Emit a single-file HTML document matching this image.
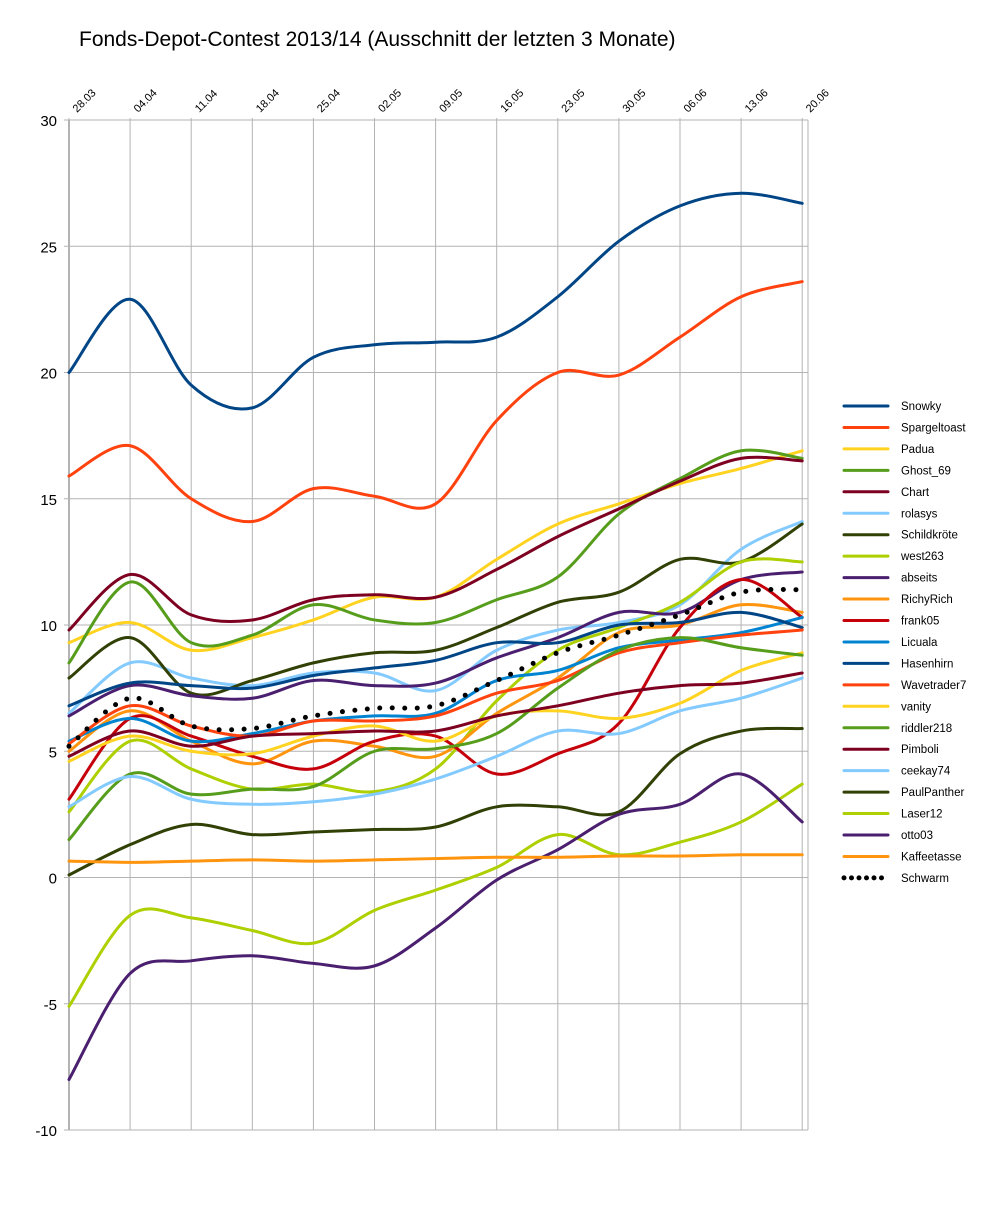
<!DOCTYPE html>
<html><head><meta charset="utf-8"><style>
body{margin:0;background:#fff;}
svg{display:block;font-family:"Liberation Sans",Arial,sans-serif;}
</style></head><body>
<svg id="chart" width="1006" height="1232" viewBox="0 0 1006 1232" xmlns="http://www.w3.org/2000/svg">
<rect width="1006" height="1232" fill="#fff"/>
<text x="79" y="46" font-size="21" fill="#000">Fonds-Depot-Contest 2013/14 (Ausschnitt der letzten 3 Monate)</text>
<g id="grid"></g><g id="axes"></g><g id="series"></g><g id="legend"></g>
</svg>
<script>
const categories=["28.03","04.04","11.04","18.04","25.04","02.05","09.05","16.05","23.05","30.05","06.06","13.06","20.06"];
const yTicks=[30,25,20,15,10,5,0,-5,-10];
const seriesNames=["Snowky","Spargeltoast","Padua","Ghost_69","Chart","rolasys","Schildkröte","west263","abseits","RichyRich","frank05","Licuala","Hasenhirn","Wavetrader7","vanity","riddler218","Pimboli","ceekay74","PaulPanther","Laser12","otto03","Kaffeetasse","Schwarm"];
const seriesColors=["#004586","#ff420e","#ffd320","#579d1c","#7e0021","#83caff","#314004","#aecf00","#4b1f6f","#ff950e","#c5000b","#0084d1","#004586","#ff420e","#ffd320","#579d1c","#7e0021","#83caff","#314004","#aecf00","#4b1f6f","#ff950e","#000"];
const snowky=[20,22.9,19.5,18.6,20.6,21.1,21.2,21.4,23,25.2,26.6,27.1,26.7];
const spargeltoast=[15.9,17.1,15.0,14.1,15.4,15.1,14.8,18.1,20.0,19.9,21.4,23.0,23.6];
const padua=[9.3,10.1,9.0,9.5,10.2,11.1,11.1,12.6,14.0,14.8,15.6,16.2,16.9];
const ghost69=[8.5,11.7,9.3,9.6,10.8,10.2,10.1,11.0,11.9,14.4,15.8,16.9,16.6];
const chartS=[9.8,12.0,10.4,10.2,11.0,11.2,11.1,12.2,13.5,14.6,15.7,16.6,16.5];
const rolasys=[6.5,8.5,7.9,7.6,8.1,8.1,7.4,9.0,9.8,10.1,10.8,13.0,14.1];
const schildkroete=[7.9,9.5,7.3,7.8,8.5,8.9,9.0,9.9,10.9,11.3,12.6,12.5,14.0];
const west263=[2.6,5.4,4.3,3.5,3.7,3.4,4.3,7.0,9.0,9.9,10.9,12.5,12.5];
const abseits=[6.4,7.6,7.2,7.1,7.8,7.6,7.7,8.7,9.5,10.5,10.5,11.8,12.1];
const richyrich=[5.0,6.6,5.4,4.5,5.4,5.2,4.8,6.5,7.9,9.7,10.0,10.8,10.5];
const frank05=[3.1,6.3,5.6,4.8,4.3,5.4,5.6,4.1,4.9,6.1,9.9,11.8,10.3];
const licuala=[5.4,6.3,5.4,5.7,6.2,6.4,6.5,7.8,8.2,9.1,9.4,9.7,10.3];
const hasenhirn=[6.8,7.7,7.6,7.5,8.0,8.3,8.6,9.3,9.3,10.0,10.1,10.5,9.9];
const wavetrader7=[5.3,6.8,6.0,5.6,6.2,6.2,6.4,7.3,7.8,8.9,9.3,9.6,9.8];
const vanity=[4.6,5.6,5.0,4.9,5.6,6.0,5.4,6.4,6.6,6.3,6.9,8.2,8.9];
const riddler218=[1.5,4.1,3.3,3.5,3.6,5.0,5.1,5.7,7.5,9.0,9.5,9.1,8.8];
const pimboli=[4.8,5.8,5.2,5.6,5.7,5.8,5.8,6.4,6.8,7.3,7.6,7.7,8.1];
const ceekay74=[2.8,4.0,3.1,2.9,3.0,3.3,3.9,4.8,5.8,5.7,6.6,7.1,7.9];
const paulpanther=[0.1,1.3,2.1,1.7,1.8,1.9,2.0,2.8,2.8,2.6,4.9,5.8,5.9];
const laser12=[-5.1,-1.5,-1.6,-2.1,-2.6,-1.3,-0.5,0.4,1.7,0.9,1.4,2.2,3.7];
const otto03=[-8.0,-3.8,-3.3,-3.1,-3.4,-3.5,-2.0,-0.1,1.1,2.5,2.9,4.1,2.2];
const kaffeetasse=[0.65,0.6,0.65,0.7,0.65,0.7,0.75,0.8,0.8,0.85,0.85,0.9,0.9];
const schwarm=[5.2,7.1,6.0,5.9,6.4,6.7,6.8,7.8,8.9,9.6,10.4,11.3,11.4];
const seriesValues=[snowky,spargeltoast,padua,ghost69,chartS,rolasys,schildkroete,west263,abseits,richyrich,frank05,licuala,hasenhirn,wavetrader7,vanity,riddler218,pimboli,ceekay74,paulpanther,laser12,otto03,kaffeetasse,schwarm];

const NS="http://www.w3.org/2000/svg";
const X0=69,X1=808,XSTEP=61.1,Y0=120,Y1=1130,VMAX=30,VMIN=-10;
function xs(i){return X0+i*XSTEP;}
function ys(v){return Y0+(VMAX-v)*(Y1-Y0)/(VMAX-VMIN);}
function mk(tag,attrs,parent){const e=document.createElementNS(NS,tag);for(const k in attrs)e.setAttribute(k,attrs[k]);parent.appendChild(e);return e;}
const grid=document.getElementById('grid'),axes=document.getElementById('axes'),ser=document.getElementById('series'),leg=document.getElementById('legend');
yTicks.forEach(t=>{
  const l=mk('line',{x1:X0-5,x2:X1,y1:ys(t),y2:ys(t),stroke:'#b3b3b3','stroke-width':1},grid);
  
  
  const tx=mk('text',{x:57,y:ys(t)+6,'text-anchor':'end','font-size':15,fill:'#000'},axes);
  tx.textContent=t;
  
  
});
categories.forEach((c,i)=>{
  const l=mk('line',{x1:xs(i),x2:xs(i),y1:Y0-2,y2:Y1,stroke:'#b3b3b3','stroke-width':1},grid);
  
  
  const tx=mk('text',{x:0,y:0,'font-size':11,fill:'#000',transform:`translate(${xs(i)+8},${Y0-7}) rotate(-45)`},axes);
  tx.textContent=c;
  
  
});
const rb=mk('line',{x1:X1,x2:X1,y1:Y0,y2:Y1,stroke:'#b3b3b3','stroke-width':1},grid);


const la=mk('line',{x1:X0,x2:X0,y1:Y0,y2:Y1,stroke:'#b3b3b3','stroke-width':2},grid);


function smooth(vals){
  const p=vals.map((v,i)=>[xs(i),ys(v)]);
  let d=`M${p[0][0]},${p[0][1]}`;
  for(let i=0;i<p.length-1;i++){
    const p0=p[Math.max(0,i-1)],p1=p[i],p2=p[i+1],p3=p[Math.min(p.length-1,i+2)];
    const c1=[p1[0]+(p2[0]-p0[0])/6,p1[1]+(p2[1]-p0[1])/6];
    const c2=[p2[0]-(p3[0]-p1[0])/6,p2[1]-(p3[1]-p1[1])/6];
    d+=` C${c1[0]},${c1[1]} ${c2[0]},${c2[1]} ${p2[0]},${p2[1]}`;
  }
  return d;
}
seriesValues.forEach((vals,k)=>{
  const isS=k===seriesValues.length-1;
  const attrs={d:smooth(vals),fill:'none',stroke:seriesColors[k],'stroke-width':isS?5:3,'stroke-linecap':'round','stroke-linejoin':'round'};
  if(isS){attrs['stroke-dasharray']='0 12.5';}
  const p=mk('path',attrs,ser);
  
  
  const ly=406+k*21.45;
  const g=mk('g',{},leg);
  
  
  const la={x1:844,x2:888,y1:ly,y2:ly,stroke:seriesColors[k],'stroke-width':isS?5:3,'stroke-linecap':'round'};
  if(isS)la['stroke-dasharray']='0 7.5';
  mk('line',la,g);
  const t=mk('text',{x:901,y:ly+4,'font-size':11.5,fill:'#000'},g);
  t.textContent=seriesNames[k];
});
</script>
</body></html>
